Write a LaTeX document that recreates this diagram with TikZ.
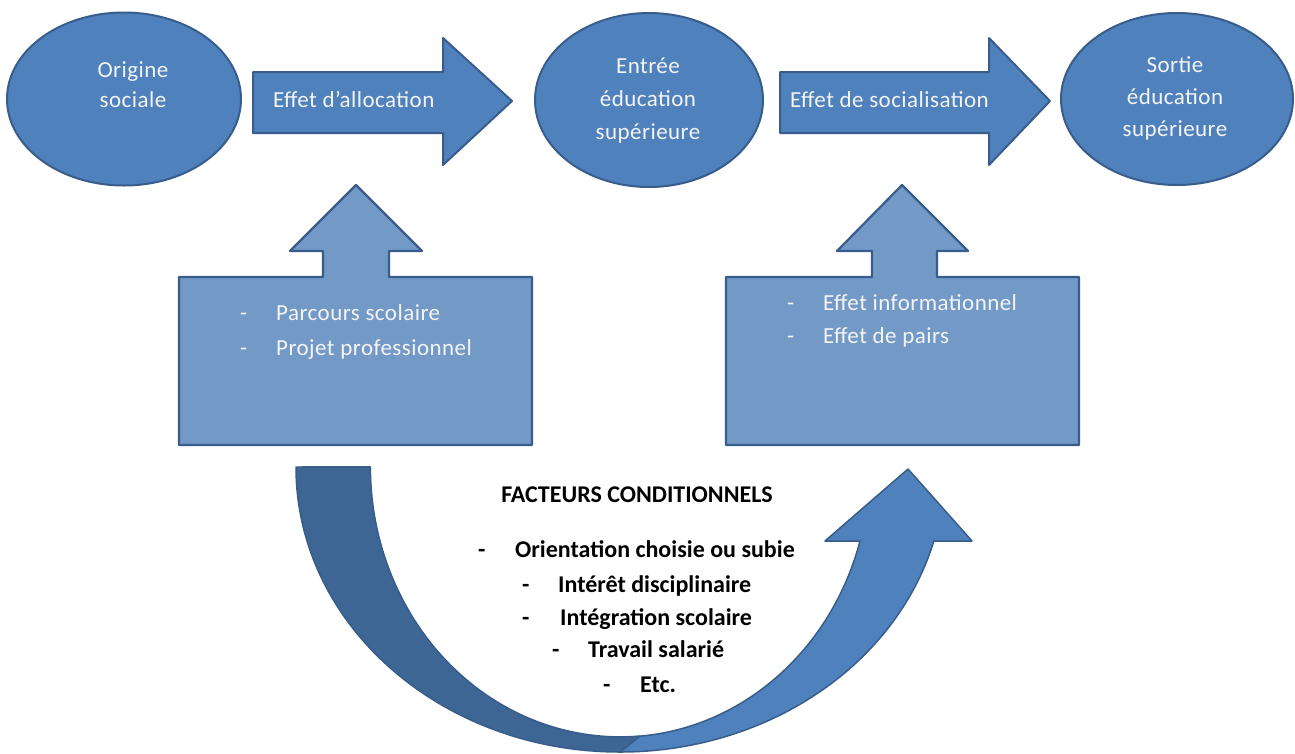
\documentclass[tikz,border=0pt]{standalone}
\usepackage{fontspec}
\setmainfont{Carlito}
\newfontfamily\spacedfont[LetterSpace=2]{Carlito}
\usetikzlibrary{shapes.geometric}
\definecolor{fillblue}{HTML}{4F81BD}
\definecolor{edgeblue}{HTML}{385D8A}
\definecolor{lightblue}{HTML}{7399C6}
\definecolor{darkband}{HTML}{3E6695}
\definecolor{txtwhite}{HTML}{F4F4F4}
\begin{document}
\begin{tikzpicture}[x=1pt,y=-1pt,
  blueshape/.style={fill=fillblue, draw=edgeblue, line width=2pt, line join=round},
  calloutbox/.style={fill=lightblue, draw=edgeblue, line width=2.2pt, line join=round},
  bandshape/.style={draw=edgeblue, line width=1.5pt, line join=round},
  wtxt/.style={text=txtwhite, font=\spacedfont\fontsize{23}{27}\selectfont, inner sep=0pt},
  btxt/.style={text=black, font=\bfseries\fontsize{24}{28}\selectfont, inner sep=0pt}]
\useasboundingbox (0,0) rectangle (1295,753);
\fill[white] (0,0) rectangle (1295,753);

% ellipses
\node[ellipse, blueshape, minimum width=234pt, minimum height=173pt] (orig) at (124,99) {};
\node[ellipse, blueshape, minimum width=228pt, minimum height=174pt] (entree) at (649,100) {};
\node[ellipse, blueshape, minimum width=232pt, minimum height=172pt] (sortie) at (1177,99) {};

\node[wtxt, anchor=base] (orig1) at (133,77) {Origine};
\node[wtxt, anchor=base] (orig2) at (133,107) {sociale};
\node[wtxt, anchor=base] (ent1) at (648,73) {Entrée};
\node[wtxt, anchor=base] (ent2) at (648,106) {éducation};
\node[wtxt, anchor=base] (ent3) at (648,139) {supérieure};
\node[wtxt, anchor=base] (sor1) at (1175,72) {Sortie};
\node[wtxt, anchor=base] (sor2) at (1175,104) {éducation};
\node[wtxt, anchor=base] (sor3) at (1175,136) {supérieure};

% block arrows
\draw[blueshape] (253,72) -- (443,72) -- (443,38) -- (512,101) -- (443,165) -- (443,133) -- (253,133) -- cycle;
\draw[blueshape] (780,72) -- (989,72) -- (989,38) -- (1050,101) -- (989,165) -- (989,133) -- (780,133) -- cycle;
\node[wtxt, anchor=base west] (alloc) at (273,107) {Effet d’allocation};
\node[wtxt, anchor=base west] (social) at (790,107) {Effet de socialisation};

% up-arrow callouts
\draw[calloutbox] (179,277) -- (323,277) -- (323,251) -- (290,251) -- (356,185) -- (422,251) -- (389,251) -- (389,277) -- (532,277) -- (532,445) -- (179,445) -- cycle;
\draw[calloutbox] (726,277) -- (872,277) -- (872,251) -- (837,251) -- (902,185) -- (968,251) -- (937,251) -- (937,277) -- (1079,277) -- (1079,445) -- (726,445) -- cycle;

\node[wtxt, anchor=base west] (lb1d) at (240,320) {-};
\node[wtxt, anchor=base west] (lb1) at (276,320) {Parcours scolaire};
\node[wtxt, anchor=base west] (lb2d) at (240,355) {-};
\node[wtxt, anchor=base west] (lb2) at (276,355) {Projet professionnel};
\node[wtxt, anchor=base west] (rb1d) at (787,310) {-};
\node[wtxt, anchor=base west] (rb1) at (823,310) {Effet informationnel};
\node[wtxt, anchor=base west] (rb2d) at (787,343) {-};
\node[wtxt, anchor=base west] (rb2) at (823,343) {Effet de pairs};

% curved up arrow: back (dark) band
\draw[bandshape, fill=darkband] (296,467)
  arc[start angle=180, end angle=90, x radius=324, y radius=285]
  -- (640,736)
  arc[start angle=85.4, end angle=180, x radius=249.6, y radius=270]
  -- cycle;
% front (light) band with head
\draw[bandshape, fill=fillblue] (620,752)
  arc[start angle=90, end angle=15.05, x radius=325, y radius=285]
  -- (972,541) -- (908,469) -- (825,541) -- (860,541)
  arc[start angle=15.9, end angle=85.4, x radius=249.6, y radius=270]
  -- cycle;

% conditional factors
\node[btxt, anchor=base] (fact) at (637,502) {FACTEURS CONDITIONNELS};
\node[btxt, anchor=base west] (f1d) at (478,557) {-};
\node[btxt, anchor=base west] (f1) at (515,557) {Orientation choisie ou subie};
\node[btxt, anchor=base west] (f2d) at (522,592) {-};
\node[btxt, anchor=base west] (f2) at (558,592) {Intérêt disciplinaire};
\node[btxt, anchor=base west] (f3d) at (522,625) {-};
\node[btxt, anchor=base west] (f3) at (560,625) {Intégration scolaire};
\node[btxt, anchor=base west] (f4d) at (552,657) {-};
\node[btxt, anchor=base west] (f4) at (588,657) {Travail salarié};
\node[btxt, anchor=base west] (f5d) at (603,692) {-};
\node[btxt, anchor=base west] (f5) at (640,692) {Etc.};
\end{tikzpicture}
\end{document}
